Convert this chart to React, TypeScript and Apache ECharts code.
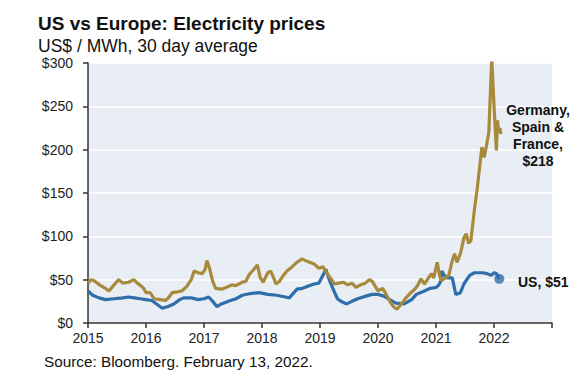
import React, { useEffect, useRef } from "react";
import * as echarts from "echarts";

const euDates = [
  2015.0, 2015.05, 2015.1, 2015.2, 2015.3, 2015.36, 2015.45, 2015.53, 2015.6, 2015.7, 2015.79, 2015.85,
  2015.91, 2015.96, 2016.0, 2016.07, 2016.14, 2016.25, 2016.34, 2016.4, 2016.45, 2016.55, 2016.62, 2016.7,
  2016.78, 2016.83, 2016.9, 2016.97, 2017.02, 2017.05, 2017.1, 2017.15, 2017.2, 2017.3, 2017.38, 2017.48,
  2017.55, 2017.65, 2017.72, 2017.78, 2017.86, 2017.92, 2017.97, 2018.02, 2018.1, 2018.15, 2018.2, 2018.24,
  2018.3, 2018.38, 2018.43, 2018.52, 2018.6, 2018.69, 2018.75, 2018.82, 2018.9, 2018.98, 2019.05, 2019.12,
  2019.19, 2019.25, 2019.32, 2019.4, 2019.48, 2019.55, 2019.62, 2019.7, 2019.78, 2019.85, 2019.9, 2020.0,
  2020.08, 2020.14, 2020.22, 2020.28, 2020.33, 2020.4, 2020.48, 2020.55, 2020.62, 2020.68, 2020.74, 2020.8,
  2020.87, 2020.92, 2020.96, 2021.02, 2021.06, 2021.1, 2021.16, 2021.22, 2021.28, 2021.32, 2021.36, 2021.42,
  2021.48, 2021.52, 2021.56, 2021.6, 2021.66, 2021.71, 2021.76, 2021.79, 2021.83, 2021.87, 2021.91, 2021.96,
  2022.0, 2022.04, 2022.06, 2022.08, 2022.1, 2022.12,
];
const euValues = [
  46, 50, 49, 44, 40, 37, 44, 50, 46, 47, 50, 46,
  43, 40, 35, 35, 28, 27, 26, 30, 35, 36, 37, 42,
  50, 60, 58, 57, 62, 72, 62, 48, 40, 39, 41, 44,
  43, 47, 48, 56, 62, 67, 52, 47, 58, 60, 52, 45,
  48, 56, 60, 65, 70, 74, 72, 70, 68, 63, 65, 57,
  51, 45, 46, 47, 44, 46, 41, 44, 46, 50, 48, 37,
  40, 33, 23, 18, 16, 22, 29, 34, 38, 43, 51, 45,
  52, 57, 52, 70, 55, 49, 52, 55, 72, 80, 70, 80,
  98, 103, 92, 95, 130, 155, 185, 203, 191, 205, 220, 305,
  250, 199, 234, 220, 225, 218,
];

const usDates = [
  2015.0, 2015.08, 2015.19, 2015.3, 2015.45, 2015.6, 2015.7, 2015.8, 2015.9, 2016.0, 2016.1, 2016.2,
  2016.28, 2016.38, 2016.48, 2016.58, 2016.65, 2016.78, 2016.9, 2017.0, 2017.08, 2017.15, 2017.22, 2017.3,
  2017.42, 2017.55, 2017.66, 2017.8, 2017.95, 2018.1, 2018.25, 2018.4, 2018.47, 2018.55, 2018.6, 2018.7,
  2018.81, 2018.9, 2018.98, 2019.05, 2019.1, 2019.16, 2019.22, 2019.3, 2019.36, 2019.46, 2019.55, 2019.65,
  2019.79, 2019.9, 2020.0, 2020.1, 2020.2, 2020.31, 2020.45, 2020.58, 2020.66, 2020.8, 2020.9, 2021.0,
  2021.05, 2021.08, 2021.1, 2021.14, 2021.2, 2021.28, 2021.34, 2021.42, 2021.48, 2021.58, 2021.66, 2021.8,
  2021.88, 2021.95, 2022.0, 2022.04, 2022.09,
];
const usValues = [
  37, 32, 29, 27, 28, 29, 30, 29, 28, 27, 26, 21,
  17, 19, 22, 27, 29, 29, 27, 28, 30, 25, 19, 22,
  25, 28, 32, 34, 35, 33, 32, 30, 29, 35, 39, 40,
  43, 45, 46, 55, 62, 50, 40, 28, 25, 22, 25, 28,
  31, 33, 33, 31, 27, 23, 22, 27, 33, 37, 40, 41,
  44, 48, 60, 55, 52, 52, 33, 35, 45, 55, 58, 58,
  57, 55, 58, 57, 51,
];

const yTicks = [0, 50, 100, 150, 200, 250, 300];
const yearLabels = ["2015", "2016", "2017", "2018", "2019", "2020", "2021", "2022"];

const GOLD = "#a88a3c";
const BLUE = "#2f6ea8";
const FONT = "Liberation Sans, Arial, sans-serif";

export default function App() {
  const ref = useRef<HTMLDivElement>(null);
  useEffect(() => {
    if (!ref.current) return;
    const chart = echarts.init(ref.current, null, { renderer: "svg" });
    const eu = euDates.map((d, i) => [d, euValues[i]]);
    const us = usDates.map((d, i) => [d, usValues[i]]);
    const usLast = us[us.length - 1];
    chart.setOption({
      animation: false,
      backgroundColor: "#ffffff",
      textStyle: { fontFamily: FONT },
      grid: {
        left: 88,
        top: 63,
        width: 464,
        height: 260,
        show: true,
        backgroundColor: "#e8eef3",
        borderWidth: 0,
        containLabel: false,
      },
      xAxis: {
        type: "value",
        min: 2015,
        max: 2022.999,
        interval: 1,
        axisLine: { show: true, lineStyle: { color: "#333", width: 1.5 } },
        axisTick: { show: true, length: 5, lineStyle: { color: "#333", width: 1.5 } },
        splitLine: { show: false },
        axisLabel: {
          fontSize: 14,
          color: "#222",
          margin: 8,
          fontFamily: FONT,
          formatter: (v: number) => {
            const idx = Math.round(v) - 2015;
            return yearLabels[idx] ?? "";
          },
        },
      },
      yAxis: {
        type: "value",
        min: yTicks[0],
        max: yTicks[yTicks.length - 1],
        interval: 50,
        axisLine: { show: true, lineStyle: { color: "#333", width: 1.5 } },
        axisTick: { show: true, length: 5, lineStyle: { color: "#333", width: 1.5 } },
        splitLine: { show: true, lineStyle: { color: "#ffffff", width: 1.5 } },
        axisLabel: {
          fontSize: 14,
          color: "#222",
          margin: 15,
          fontFamily: FONT,
          formatter: (v: number) => "$" + v,
        },
      },
      series: [
        {
          type: "line",
          data: us,
          showSymbol: false,
          lineStyle: { color: BLUE, width: 3.2 },
          itemStyle: { color: BLUE },
          z: 3,
        },
        {
          type: "line",
          data: eu,
          showSymbol: false,
          lineStyle: { color: GOLD, width: 3.2 },
          itemStyle: { color: GOLD },
          z: 4,
        },
        {
          type: "scatter",
          data: [usLast],
          symbolSize: 10,
          itemStyle: { color: BLUE },
          z: 5,
        },
      ],
      graphic: [
        {
          type: "text",
          left: 38,
          top: 14,
          z: 10,
          style: {
            text: "US vs Europe: Electricity prices",
            font: `bold 19px ${FONT}`,
            fill: "#111",
          },
        },
        {
          type: "text",
          left: 38,
          top: 37,
          z: 10,
          style: {
            text: "US$ / MWh, 30 day average",
            font: `17.5px ${FONT}`,
            fill: "#111",
          },
        },
        {
          type: "text",
          left: 44,
          top: 354,
          z: 10,
          style: {
            text: "Source: Bloomberg. February 13, 2022.",
            font: `15.3px ${FONT}`,
            fill: "#111",
          },
        },
        {
          type: "text",
          x: 538,
          y: 101,
          z: 10,
          style: {
            text: "Germany,\nSpain &\nFrance,\n$218",
            font: `bold 14px ${FONT}`,
            lineHeight: 17,
            align: "center",
            fill: "#111",
          },
        },
        {
          type: "text",
          x: 518,
          y: 275,
          z: 10,
          style: {
            text: "US, $51",
            font: `bold 14px ${FONT}`,
            fill: "#111",
          },
        },
      ],
    });
    return () => chart.dispose();
  }, []);
  return (
    <div
      ref={ref}
      style={{ position: "fixed", left: 0, top: 0, width: 588, height: 384 }}
    />
  );
}
